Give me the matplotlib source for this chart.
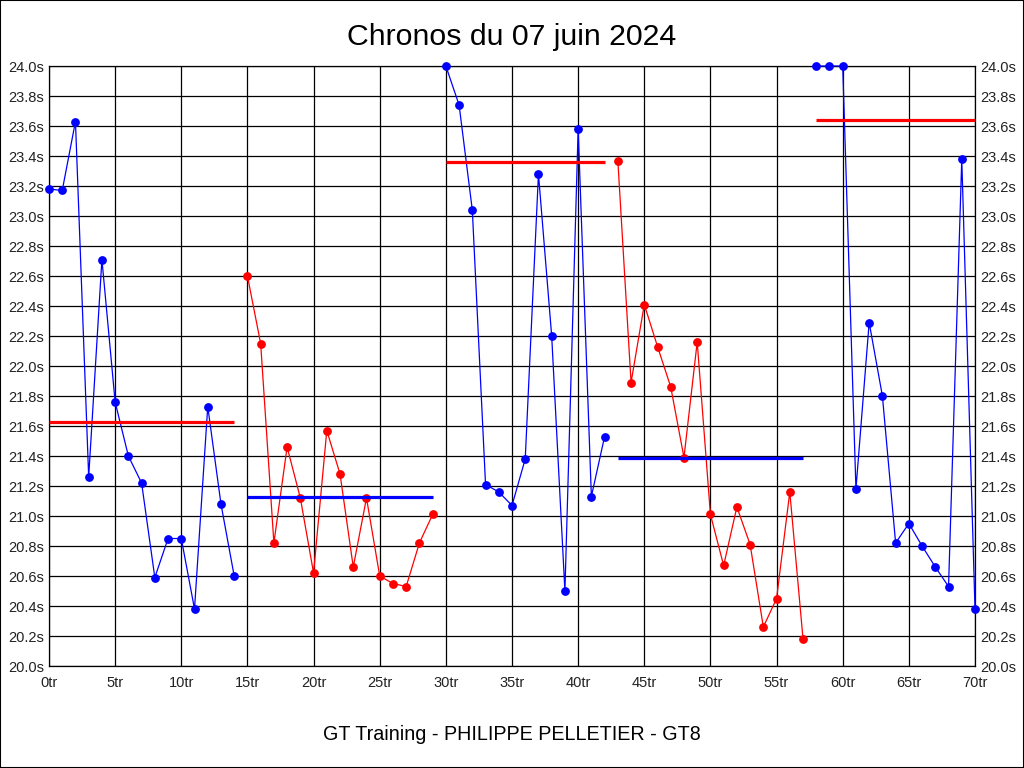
import matplotlib
matplotlib.use('Agg')
import matplotlib.pyplot as plt
from matplotlib.patches import Rectangle

# temps au tour (s) (plafonnées à 24.0 s)
chronos = [23.18, 23.17, 23.63, 21.26, 22.71, 21.76, 21.40, 21.22, 20.59, 20.85,
           20.85, 20.38, 21.73, 21.08, 20.60,
           22.60, 22.15, 20.82, 21.46, 21.12, 20.62, 21.57, 21.28, 20.66, 21.12,
           20.60, 20.55, 20.53, 20.82, 21.01,
           24.00, 23.74, 23.04, 21.21, 21.16, 21.07, 21.38, 23.28, 22.20, 20.50,
           23.58, 21.13, 21.53,
           23.37, 21.89, 22.41, 22.13, 21.86, 21.39, 22.16, 21.01, 20.67, 21.06,
           20.81, 20.26, 20.45, 21.16, 20.18,
           24.00, 24.00, 24.00, 21.18, 22.29, 21.80, 20.82, 20.95, 20.80, 20.66,
           20.53, 23.38, 20.38]
tours = list(range(len(chronos)))

# relais (premier tour, dernier tour) et moyenne de chaque relais
relais = [(0, 14), (15, 29), (30, 42), (43, 57), (58, 70)]
moyennes = [21.63, 21.13, 23.36, 21.39, 23.64]

y_ticks = [20.0 + 0.2 * i for i in range(21)]
x_ticks = list(range(0, 71, 5))

plt.rcParams['font.family'] = ['Liberation Sans', 'DejaVu Sans']

fig = plt.figure(figsize=(10.24, 7.68), dpi=100)
ax = fig.add_axes([49 / 1024, 102 / 768, 926 / 1024, 600 / 768])

couleurs = ['blue', 'red']
for i, (debut, fin) in enumerate(relais):
    c = couleurs[i % 2]
    c_moy = couleurs[(i + 1) % 2]
    ax.plot(tours[debut:fin + 1], chronos[debut:fin + 1], color=c, lw=0.9,
            marker='o', ms=5.3, clip_on=False, zorder=3)
    ax.plot([debut, fin], [moyennes[i]] * 2, color=c_moy, lw=2.3,
            solid_capstyle='butt', zorder=4)

ax.set_xlim(0, 70)
ax.set_ylim(20.0, 24.0)
ax.set_xticks(x_ticks)
ax.set_xticklabels([f'{t}tr' for t in x_ticks])
ax.set_yticks(y_ticks)
ax.set_yticklabels([f'{v:.1f}s' for v in y_ticks])
ax.tick_params(axis='y', which='both', length=0, labelsize=10.5, pad=3.6,
               labelleft=True, labelright=True, colors='#222222')
ax.tick_params(axis='x', length=0, labelsize=10.5, pad=7, colors='#222222')
ax.grid(True, color='black', lw=0.9)
ax.set_axisbelow(True)
for s in ax.spines.values():
    s.set_color('black')
    s.set_linewidth(0.9)

fig.text(0.5, 1 - 37 / 768, 'Chronos du 07 juin 2024', ha='center', va='center',
         fontsize=21.8)
fig.text(0.5, 1 - 735 / 768, 'GT Training - PHILIPPE PELLETIER - GT8',
         ha='center', va='center', fontsize=14.2)

fig.patches.append(Rectangle((0, 0), 1, 1, transform=fig.transFigure,
                             fill=False, edgecolor='black', lw=1.5))

fig.savefig('out.png', dpi=100)
